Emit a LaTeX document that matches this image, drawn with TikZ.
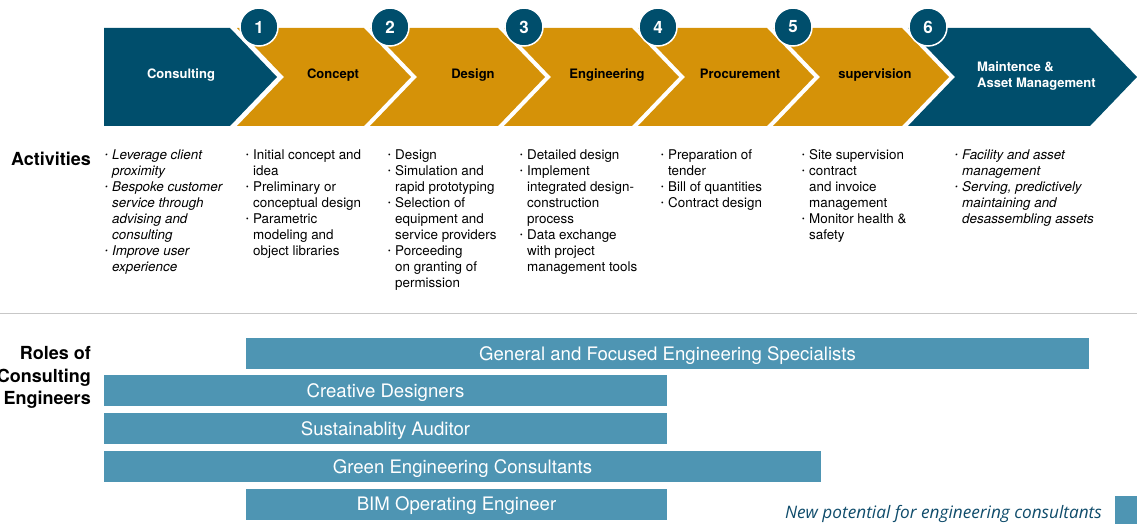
\documentclass[tikz,border=0pt]{standalone}
\usepackage{fontspec}
\setmainfont{TeX Gyre Heros}
\newfontfamily\legendfont{Open Sans}
\usepackage{graphicx}
\definecolor{dblue}{HTML}{004E6C}
\definecolor{gold}{HTML}{D59208}
\definecolor{barblue}{HTML}{4E95B3}
\definecolor{legblue}{HTML}{0F4C6B}
\newcommand{\bul}{\makebox[7pt][l]{\raisebox{2pt}{\scalebox{0.55}{\textbullet}}}}
\newcommand{\ind}{\hspace*{7pt}}
\tikzset{
  chevlabel/.style={font=\fontsize{13}{16}\selectfont\bfseries, text=black, inner sep=0, anchor=base},
  numcircle/.style={circle, fill=dblue, draw=white, line width=1.5pt, minimum size=38pt, inner sep=0, text=white, font=\fontsize{17}{17}\selectfont\bfseries},
  acttext/.style={anchor=north west, align=left, inner sep=0, font=\fontsize{13.4}{16}\selectfont},
  rolebar/.style={fill=barblue, inner sep=0, text=white, font=\fontsize{18.6}{18.6}\selectfont, minimum height=31pt, text depth=4pt, text height=17.5pt},
  heading/.style={font=\fontsize{18}{22.5}\selectfont\bfseries, inner sep=0, align=right}
}
\begin{document}
\begin{tikzpicture}[x=1pt,y=-1pt]
\useasboundingbox (0,0) rectangle (1137,529);
% chevrons
\fill[dblue] (104,28) -- (230,28) -- (277,77) -- (230,126) -- (104,126) -- cycle;
\foreach \L/\R/\c in {237/364/gold,370/498/gold,504/632/gold,638/767/gold,773/902/gold}{
  \fill[\c] (\L,28) -- (\R,28) -- (\R+47,77) -- (\R,126) -- (\L,126) -- (\L+47,77) -- cycle;
}
\fill[dblue] (908,28) -- (1090,28) -- (1137,77) -- (1090,126) -- (908,126) -- (955,77) -- cycle;
% chevron labels
\node[chevlabel, text=white] (l0) at (181,78.5) {Consulting};
\node[chevlabel] (l1) at (333,78.5) {Concept};
\node[chevlabel] (l2) at (473,78.5) {Design};
\node[chevlabel] (l3) at (607,78.5) {Engineering};
\node[chevlabel] (l4) at (740,78.5) {Procurement};
\node[chevlabel] (l5) at (875,78.5) {supervision};
\node[chevlabel, text=white, anchor=north west, align=left] (l6) at (977,61.5) {Maintence \&\\Asset Management};
% number circles
\node[numcircle] (n1) at (259,27) {1};
\node[numcircle] (n2) at (390,27) {2};
\node[numcircle] (n3) at (524,27) {3};
\node[numcircle] (n4) at (658,27) {4};
\node[numcircle] (n5) at (793,27) {5};
\node[numcircle] (n6) at (928,27) {6};
% activities
\node[heading, anchor=east] (act) at (91,159) {Activities};
\node[acttext, font=\fontsize{13.4}{16}\selectfont\itshape] (a0) at (105,149.5) {\bul Leverage client\\\ind proximity\\\bul Bespoke customer\\\ind service through\\\ind advising and\\\ind consulting\\\bul Improve user\\\ind experience};
\node[acttext] (a1) at (246,149.5) {\bul Initial concept and\\\ind idea\\\bul Preliminary or\\\ind conceptual design\\\bul Parametric\\\ind modeling and\\\ind object libraries};
\node[acttext] (a2) at (388,149.5) {\bul Design\\\bul Simulation and\\\ind rapid prototyping\\\bul Selection of\\\ind equipment and\\\ind service providers\\\bul Porceeding\\\ind on granting of\\\ind permission};
\node[acttext] (a3) at (520,149.5) {\bul Detailed design\\\bul Implement\\\ind integrated design-\\\ind construction\\\ind process\\\bul Data exchange\\\ind with project\\\ind management tools};
\node[acttext] (a4) at (661,149.5) {\bul Preparation of\\\ind tender\\\bul Bill of quantities\\\bul Contract design};
\node[acttext] (a5) at (802,149.5) {\bul Site supervision\\\bul contract\\\ind and invoice\\\ind management\\\bul Monitor health \&\\\ind safety};
\node[acttext, font=\fontsize{13.4}{16}\selectfont\itshape] (a6) at (955,149.5) {\bul Facility and asset\\\ind management\\\bul Serving, predictively\\\ind maintaining and\\\ind desassembling assets};
% separator
\coordinate (sepL) at (0,313);
\coordinate (sepR) at (1137,313);
\draw[black!22, line width=0.8pt] (sepL) -- (sepR);
% roles
\node[heading, anchor=north east] (roles) at (91,346.5) {Roles of\\Consulting\\Engineers};
\node[rolebar, minimum width=843pt] (b1) at (667.5,353.5) {General and Focused Engineering Specialists};
\node[rolebar, minimum width=563pt] (b2) at (385.5,390.5) {Creative Designers};
\node[rolebar, minimum width=563pt] (b3) at (385.5,428.5) {Sustainablity Auditor};
\node[rolebar, minimum width=717pt] (b4) at (462.5,466.5) {Green Engineering Consultants};
\node[rolebar, minimum width=421pt] (b5) at (456.5,504) {BIM Operating Engineer};
% legend
\node[fill=barblue, minimum width=22pt, minimum height=28pt, inner sep=0] (legsq) at (1126,510) {};
\node[anchor=base east, inner sep=0, text=legblue, font=\legendfont\itshape\fontsize{17.2}{18}\selectfont] (legtxt) at (1102,518) {New potential for engineering consultants};
\end{tikzpicture}
\end{document}
